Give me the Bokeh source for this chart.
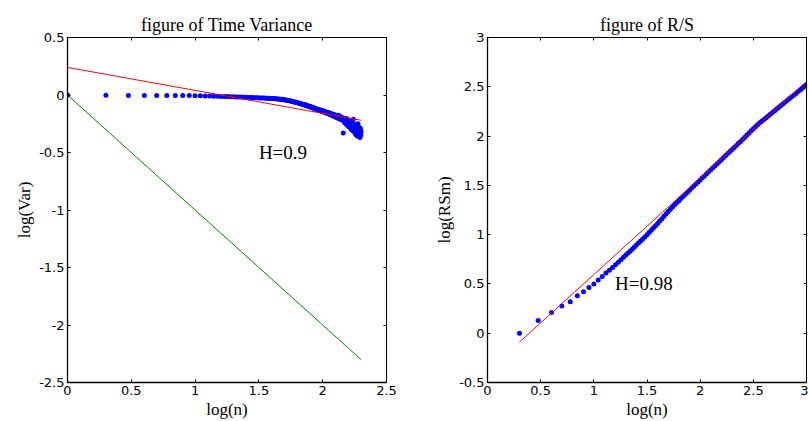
from bokeh.plotting import figure
from bokeh.layouts import row
from bokeh.models import LinearAxis, FixedTicker, CustomJSTickFormatter, ColumnDataSource
from bokeh.core.properties import value
from bokeh.embed import file_html
from bokeh.resources import INLINE
import numpy as np

# ---------------- data: left panel (time variance) ----------------
tv_n = list(range(1, 201))
tv_logvar = [
    0.000, -0.003, -0.004, -0.004, -0.005, -0.005, -0.005, -0.005, -0.005, -0.006,
    -0.007, -0.008, -0.009, -0.010, -0.011, -0.012, -0.013, -0.014, -0.015, -0.016,
    -0.017, -0.018, -0.018, -0.019, -0.020, -0.021, -0.021, -0.022, -0.023, -0.024,
    -0.024, -0.025, -0.026, -0.026, -0.027, -0.028, -0.028, -0.029, -0.030, -0.031,
    -0.031, -0.032, -0.033, -0.034, -0.035, -0.036, -0.037, -0.038, -0.039, -0.041,
    -0.043, -0.045, -0.046, -0.048, -0.050, -0.052, -0.054, -0.056, -0.058, -0.060,
    -0.062, -0.064, -0.066, -0.068, -0.071, -0.073, -0.075, -0.076, -0.080, -0.083,
    -0.085, -0.082, -0.090, -0.088, -0.094, -0.092, -0.099, -0.097, -0.103, -0.100,
    -0.107, -0.104, -0.111, -0.108, -0.116, -0.112, -0.120, -0.117, -0.125, -0.121,
    -0.128, -0.125, -0.132, -0.128, -0.136, -0.131, -0.140, -0.134, -0.143, -0.138,
    -0.146, -0.140, -0.150, -0.144, -0.152, -0.147, -0.156, -0.150, -0.160, -0.153,
    -0.158, -0.166, -0.155, -0.170, -0.162, -0.160, -0.174, -0.165, -0.178, -0.168,
    -0.172, -0.185, -0.170, -0.180, -0.190, -0.176, -0.184, -0.196, -0.180, -0.188,
    -0.200, -0.185, -0.175, -0.205, -0.192, -0.186, -0.210, -0.196, -0.190, -0.214,
    -0.198, -0.205, -0.218, -0.200, -0.330, -0.222, -0.212, -0.240, -0.208, -0.226,
    -0.215, -0.250, -0.230, -0.205, -0.260, -0.222, -0.235, -0.268, -0.215, -0.240,
    -0.275, -0.225, -0.250, -0.285, -0.232, -0.255, -0.295, -0.240, -0.262, -0.305,
    -0.245, -0.270, -0.310, -0.210, -0.250, -0.280, -0.320, -0.255, -0.290, -0.335,
    -0.260, -0.300, -0.345, -0.265, -0.310, -0.355, -0.270, -0.320, -0.250, -0.290,
    -0.330, -0.360, -0.280, -0.300, -0.340, -0.370, -0.290, -0.310, -0.350, -0.320,
]
tv_fit_x = [0.0, 2.301]
tv_fit_y = [0.24, -0.22]
tv_ref_x = [0.0, 2.301]
tv_ref_y = [0.0, -2.301]
tv_label = ["H=0.9"]
tv_label_x = [1.5]
tv_label_y = [-0.5]

# ---------------- data: right panel (R/S) ----------------
rs_logn = [
    0.301, 0.477, 0.602, 0.699, 0.778, 0.845, 0.903, 0.954, 1.000, 1.041,
    1.079, 1.114, 1.146, 1.176, 1.204, 1.230, 1.255, 1.279, 1.301,
    1.32, 1.34, 1.36, 1.38, 1.40, 1.42, 1.44, 1.46, 1.48, 1.50,
    1.52, 1.54, 1.56, 1.58, 1.60, 1.62, 1.64, 1.66, 1.68, 1.70,
    1.72, 1.74, 1.76, 1.78, 1.80, 1.82, 1.84, 1.86, 1.88, 1.90,
    1.92, 1.94, 1.96, 1.98, 2.00, 2.02, 2.04, 2.06, 2.08, 2.10,
    2.12, 2.14, 2.16, 2.18, 2.20, 2.22, 2.24, 2.26, 2.28, 2.30,
    2.32, 2.34, 2.36, 2.38, 2.40, 2.42, 2.44, 2.46, 2.48, 2.50,
    2.52, 2.54, 2.56, 2.58, 2.60, 2.62, 2.64, 2.66, 2.68, 2.70,
    2.72, 2.74, 2.76, 2.78, 2.80, 2.82, 2.84, 2.86, 2.88, 2.90,
    2.92, 2.94, 2.96, 2.98, 3.00,
]
rs_logrsm = [
    0.000, 0.130, 0.210, 0.275, 0.320, 0.380, 0.420, 0.465, 0.500, 0.540,
    0.575, 0.610, 0.638, 0.667, 0.695, 0.721, 0.745, 0.770, 0.793,
    0.812, 0.832, 0.853, 0.873, 0.894, 0.915, 0.935, 0.956, 0.977, 0.999,
    1.022, 1.044, 1.067, 1.089, 1.113, 1.138, 1.162, 1.187, 1.211, 1.235,
    1.258, 1.280, 1.302, 1.323, 1.345, 1.367, 1.388, 1.410, 1.430, 1.451,
    1.473, 1.493, 1.514, 1.534, 1.555, 1.576, 1.596, 1.617, 1.637, 1.658,
    1.679, 1.699, 1.720, 1.740, 1.761, 1.782, 1.802, 1.823, 1.843, 1.864,
    1.885, 1.905, 1.926, 1.946, 1.967, 1.989, 2.010, 2.032, 2.053, 2.075,
    2.095, 2.114, 2.134, 2.151, 2.169, 2.187, 2.204, 2.222, 2.239, 2.257,
    2.275, 2.292, 2.310, 2.327, 2.345, 2.363, 2.380, 2.398, 2.415, 2.433,
    2.451, 2.468, 2.486, 2.503, 2.520,
]
rs_fit_x = [0.301, 3.0]
rs_fit_y = [-0.09, 2.555]
rs_label = ["H=0.98"]
rs_label_x = [1.2]
rs_label_y = [0.5]

left_xticks = [0, 0.5, 1, 1.5, 2, 2.5]
left_yticks = [-2.5, -2, -1.5, -1, -0.5, 0, 0.5]
right_xticks = [0, 0.5, 1, 1.5, 2, 2.5, 3]
right_yticks = [-0.5, 0, 0.5, 1, 1.5, 2, 2.5, 3]

SERIF = "Liberation Serif"
SANS = "DejaVu Sans"
fmt = CustomJSTickFormatter(code="return tick.toString();")
blank = CustomJSTickFormatter(code="return '';")


def style(p, xticks, yticks, xlabel, ylabel):
    p.title.align = "center"
    p.title.text_font = SERIF
    p.title.text_font_size = "18px"
    p.title.text_font_style = "normal"
    p.title.text_color = "black"
    p.title.standoff = 6
    p.outline_line_color = "black"
    p.outline_line_width = 1
    p.xgrid.visible = False
    p.ygrid.visible = False
    p.background_fill_color = "white"
    p.border_fill_color = "white"
    for ax, ticks, lab in ((p.xaxis[0], xticks, xlabel), (p.yaxis[0], yticks, ylabel)):
        ax.ticker = FixedTicker(ticks=ticks)
        ax.formatter = fmt
        ax.axis_label = lab
        ax.axis_label_text_font = SERIF
        ax.axis_label_text_font_size = "17px"
        ax.axis_label_text_font_style = "normal"
        ax.axis_label_text_color = "black"
        ax.axis_label_standoff = 2
        ax.major_label_text_font = SANS
        ax.major_label_text_font_size = "13px"
        ax.major_label_text_color = "black"
        ax.major_label_standoff = 3
        ax.major_tick_in = 3
        ax.major_tick_out = 0
        ax.minor_tick_line_color = None
        ax.axis_line_color = "black"
        ax.axis_line_width = 1.3
    for loc, ticks in (("above", xticks), ("right", yticks)):
        ax2 = LinearAxis(ticker=FixedTicker(ticks=ticks), formatter=blank)
        ax2.major_label_text_font_size = "0px"
        ax2.major_label_standoff = 0
        ax2.major_tick_in = 3
        ax2.major_tick_out = 0
        ax2.minor_tick_line_color = None
        ax2.axis_line_color = "black"
        p.add_layout(ax2, loc)


left = figure(width=430, height=421, x_range=(0, 2.5), y_range=(-2.5, 0.5),
              title="figure of Time Variance", output_backend="svg", toolbar_location=None,
              min_border_left=67, min_border_right=44, min_border_top=37, min_border_bottom=39)
style(left, left_xticks, left_yticks, "log(n)", "log(Var)")
left.line(tv_ref_x, tv_ref_y, line_color="#008000", line_width=1)
tv_src = ColumnDataSource(dict(x=np.log10(tv_n), y=tv_logvar))
left.scatter("x", "y", source=tv_src, size=5, fill_color="#0000ff", line_color=None)
left.line(tv_fit_x, tv_fit_y, line_color="#ff0000", line_width=1)
left.text(x=tv_label_x, y=tv_label_y, text=tv_label, text_font=value(SERIF),
          text_font_size="19px", text_baseline="middle", text_align="left", text_color="black")

right = figure(width=378, height=421, x_range=(0, 3), y_range=(-0.5, 3),
               title="figure of R/S", output_backend="svg", toolbar_location=None,
               min_border_left=57, min_border_right=2, min_border_top=37, min_border_bottom=39)
style(right, right_xticks, right_yticks, "log(n)", "log(RSm)")
right.scatter(rs_logn, rs_logrsm, size=5, fill_color="#0000ff", line_color=None)
right.line(rs_fit_x, rs_fit_y, line_color="#ff0000", line_width=1)
right.text(x=rs_label_x, y=rs_label_y, text=rs_label, text_font=value(SERIF),
           text_font_size="19px", text_baseline="middle", text_align="left", text_color="black")

layout = row(left, right)
open("out.html", "w").write(file_html(layout, INLINE))
